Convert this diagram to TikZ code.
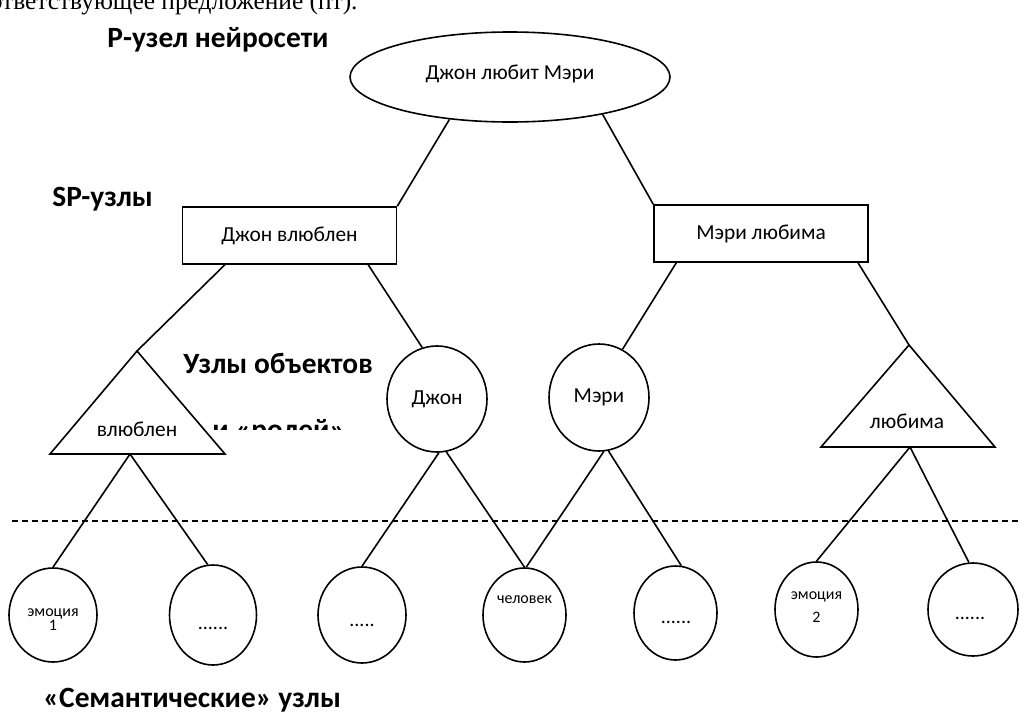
\documentclass[tikz,border=0pt]{standalone}
\usepackage{fontspec}
\setmainfont{Carlito}
\newfontfamily\bodyserif{Liberation Serif}
\usetikzlibrary{positioning, shapes.geometric, calc}

\begin{document}
\begin{tikzpicture}[
			x=0.5pt, y=-0.5pt,
			link/.style={
				line width=0.8pt
			},
			oval/.style={
				ellipse,
				draw,
				line width=0.8pt,
				inner sep=0pt,
				font=\fontsize{10.7}{13}\selectfont
			},
			spbox/.style={
				rectangle,
				draw,
				line width=0.8pt,
				minimum width=107pt,
				minimum height=28.5pt,
				inner sep=0pt,
				font=\fontsize{10.7}{13}\selectfont
			},
			tri/.style={
				draw,
				line width=0.8pt,
				line join=miter
			},
			tritext/.style={
				font=\fontsize{10.7}{13}\selectfont
			},
			semtext/.style={
				align=center,
				font=\fontsize{8}{7}\selectfont
			},
			dots/.style={
				font=\fontsize{10}{12}\selectfont
			},
			heading/.style={
				anchor=base west,
				inner sep=0pt,
				font=\bfseries\fontsize{14.7}{18}\selectfont
			},
			sepline/.style={
				line width=0.9pt,
				dash pattern=on 3pt off 2pt
			}
			]
			
			\useasboundingbox (0,0) rectangle (1028,718);
			
			% Cut line of the page text
			\node[anchor=base east, inner sep=0pt, font=\bodyserif\fontsize{12.7}{16}\selectfont] (scrap) at (358,9) {соответствующее предложение (пт).};
			
			% Headings
			\node[heading] (hP) at (107,47) {Р-узел нейросети};
			\node[heading] (hSP) at (52,206) {SP-узлы};
			\node[heading] (hObj) at (183,373) {Узлы объектов};
			\begin{scope}
				\clip (205,410) rectangle (350,429);
				\node[heading] (hRoles) at (212,439) {и «ролей»};
			\end{scope}
			\node[heading] (hSem) at (43,707) {«Семантические» узлы};
			
			% P-node
			\node[oval, minimum width=160pt, minimum height=45pt] (top) at (510,77) {\raisebox{5pt}{Джон любит Мэри}};
			
			% SP-nodes
			\node[spbox] (dj) at (289.5,235.5) {Джон влюблен};
			\node[spbox] (ml) at (761,233.5) {Мэри любима};
			
			% Object and role nodes
			\node[oval, minimum width=50pt, minimum height=53pt] (john) at (437,399) {Джон};
			\node[oval, minimum width=50pt, minimum height=53.5pt] (mary) at (599,397.5) {Мэри};
			
			\coordinate (vlApex) at (137,351);
			\coordinate (vlBot) at (130,454);
			\draw[tri] (vlApex) -- (225,454) -- (50,454) -- cycle;
			\node[tritext] (vl) at (137,429) {влюблен};
			
			\coordinate (lbApex) at (909,345);
			\coordinate (lbBot) at (910,447);
			\draw[tri] (lbApex) -- (995,447) -- (821,447) -- cycle;
			\node[tritext] (lb) at (907,421) {любима};
			
			% Separator
			\coordinate (sepL) at (12,521);
			\coordinate (sepR) at (1020,521);
			\draw[sepline] (sepL) -- (sepR);
			
			% Semantic nodes
			\node[oval, minimum width=44pt, minimum height=47pt] (c1) at (53,615) {};
			\node[oval, minimum width=43.5pt, minimum height=50pt] (c2) at (213,615) {};
			\node[oval, minimum width=44pt, minimum height=48pt] (c3) at (362,615) {};
			\node[oval, minimum width=41.5pt, minimum height=47pt] (c4) at (524.5,615) {};
			\node[oval, minimum width=41.5pt, minimum height=47pt] (c5) at (675.5,613) {};
			\node[oval, minimum width=41.5pt, minimum height=47.5pt] (c6) at (816.5,609.5) {};
			\node[oval, minimum width=45pt, minimum height=46.5pt] (c7) at (973,609.5) {};
			
			\node[semtext] (t1) at (53,620) {эмоция\\1};
			\node[dots] (t2) at (213,628) {......};
			\node[dots] (t3) at (362,625) {.....};
			\node[semtext] (t4) at (524.5,600) {человек};
			\node[dots] (t5) at (676,622) {......};
			\node[semtext, font=\fontsize{8}{11.5}\selectfont] (t6) at (816.5,607) {эмоция\\2};
			\node[dots] (t7) at (970,618) {......};
			
			% Links
			\draw[link] (top.215) -- (dj.north east);
			\draw[link] (top.338) -- (ml.north west);
			\draw[link] ($(dj.south west)!0.2!(dj.south east)$) -- (vlApex);
			\draw[link] ($(dj.south west)!0.865!(dj.south east)$) -- (john.106);
			\draw[link] ($(ml.south west)!0.107!(ml.south east)$) -- (mary.64);
			\draw[link] ($(ml.south west)!0.95!(ml.south east)$) -- (lbApex);
			
			\draw[link] (vlBot) -- (c1.north);
			\draw[link] (vlBot) -- (c2.96);
			\draw[link] (john.-88) -- (c3.north);
			\draw[link] (john.-80) -- (c4.north);
			\draw[link] (mary.-85) -- (c4.88);
			\draw[link] (mary.-80) -- (c5.83);
			\draw[link] (lbBot) -- (c6.north);
			\draw[link] (lbBot) -- (c7.95);
			
		\end{tikzpicture}
\end{document}
